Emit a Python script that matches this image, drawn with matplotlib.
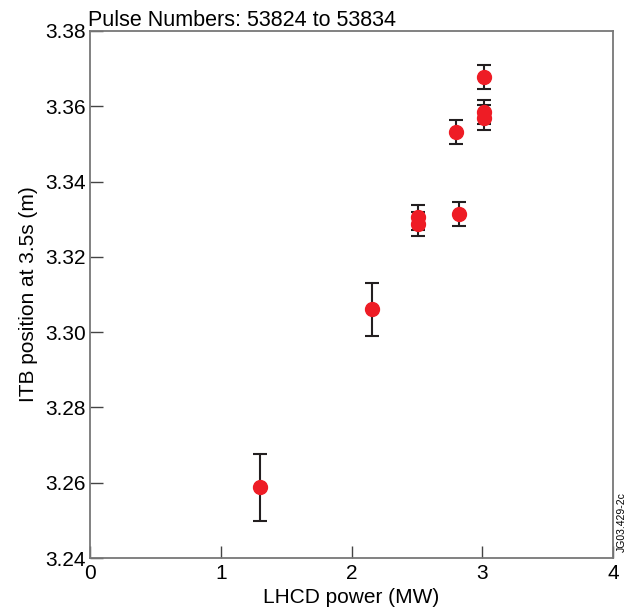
import matplotlib
matplotlib.use("Agg")
import matplotlib.pyplot as plt

plt.rcParams['font.family'] = ['Liberation Sans', 'DejaVu Sans']

# LHCD power (MW) and ITB position (m) with error bar limits
power = [1.30, 2.16, 2.51, 2.51, 2.80, 2.82, 3.01, 3.01, 3.01]
itb = [3.2589, 3.3061, 3.3306, 3.3287, 3.3532, 3.3315, 3.3679, 3.3586, 3.3570]
err_hi = [3.2677, 3.3131, 3.3338, 3.3320, 3.3564, 3.3347, 3.3710, 3.3617, 3.3603]
err_lo = [3.2498, 3.2990, 3.3271, 3.3255, 3.3499, 3.3282, 3.3645, 3.3553, 3.3537]

yerr = [[v - lo for v, lo in zip(itb, err_lo)],
        [hi - v for v, hi in zip(itb, err_hi)]]

fig = plt.figure(figsize=(6.41, 6.16), dpi=100)
ax = fig.add_axes([90 / 641, 1 - 558 / 616, 523 / 641, 527 / 616])

ax.errorbar(power, itb, yerr=yerr, fmt='none', ecolor='#231f20',
            elinewidth=1.5, capsize=5, capthick=1.5, zorder=2)
ax.plot(power, itb, 'o', color='#ee1c25', markersize=10, zorder=3)

ax.set_xlim(0, 4)
ax.set_ylim(3.24, 3.38)
ax.set_xticks([0, 1, 2, 3, 4])
ax.set_yticks([3.24, 3.26, 3.28, 3.30, 3.32, 3.34, 3.36, 3.38])
ax.set_yticklabels(['3.24', '3.26', '3.28', '3.30', '3.32', '3.34', '3.36', '3.38'])
ax.tick_params(direction='in', length=9, width=1, color='#444444',
               labelsize=15)
ax.tick_params(axis='x', pad=4)
ax.tick_params(axis='y', pad=3)
for s in ax.spines.values():
    s.set_color('#777777')
    s.set_linewidth(1.3)

ax.set_xlabel('LHCD power (MW)', fontsize=15, labelpad=4)
ax.set_ylabel('ITB position at 3.5s (m)', fontsize=15, labelpad=5)
ax.set_title('Pulse Numbers: 53824 to 53834', fontsize=15.5, loc='left',
             pad=2, x=-0.004)

fig.text(622 / 641, 1 - 522 / 616, 'JG03.429-2c', rotation=90, fontsize=7.5,
         ha='center', va='center')

fig.savefig('out.png', dpi=100)
